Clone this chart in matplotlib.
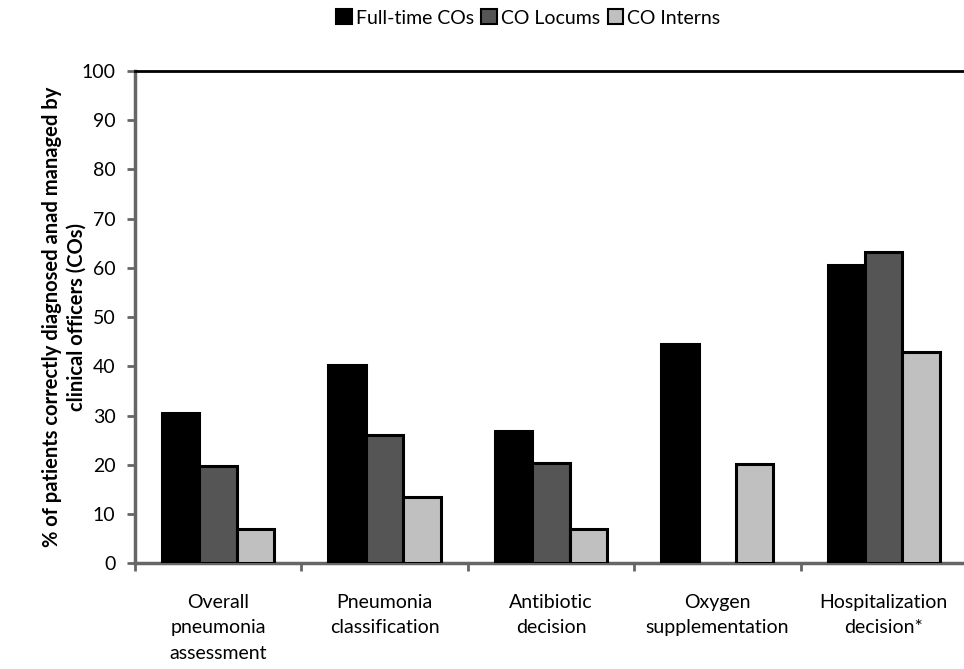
import matplotlib
matplotlib.use("Agg")
import matplotlib.pyplot as plt
import numpy as np
from matplotlib.patches import Patch

plt.rcParams['font.family'] = ['Lato', 'DejaVu Sans']

categories = ["Overall\npneumonia\nassessment", "Pneumonia\nclassification",
              "Antibiotic\ndecision", "Oxygen\nsupplementation", "Hospitalization\ndecision*"]
series_names = ["Full-time COs", "CO Locums", "CO Interns"]
fulltime = [30.5, 40.3, 26.8, 44.6, 60.6]
locums = [19.7, 26.0, 20.4, 0.0, 63.2]
interns = [7.0, 13.4, 6.9, 20.2, 43.0]
yticks = [0, 10, 20, 30, 40, 50, 60, 70, 80, 90, 100]

colors = ["#000000", "#555555", "#c0c0c0"]

fig = plt.figure(figsize=(9.64, 6.69), dpi=100)
ax = fig.add_axes([0.140, 0.158, 0.863, 0.736])

x = np.arange(len(categories)) + 0.5
w = 0.225
for i, (vals, c) in enumerate(zip([fulltime, locums, interns], colors)):
    v = np.array(vals, dtype=float)
    v[v == 0] = np.nan  # no bar drawn for missing/zero values
    ax.bar(x + (i - 1) * w, v, width=w, color=c, edgecolor="black", linewidth=2.2, zorder=3)

ax.set_xlim(0, len(categories))
ax.set_ylim(0, 100)
ax.set_yticks(yticks)
ax.set_yticklabels([str(v) for v in yticks], fontsize=14)
ax.set_xticks(np.arange(len(categories) + 1))
ax.set_xticklabels([])
ax.set_xticks(x, minor=True)
ax.set_xticklabels(categories, minor=True, fontsize=14, linespacing=1.6)
ax.tick_params(axis='x', which='minor', length=0, pad=22)
ax.tick_params(axis='x', which='major', length=6, width=2, color="#666666", direction='out')
ax.tick_params(axis='y', length=6, width=2, color="#666666", direction='out', pad=8)

ax.spines['left'].set_color("#666666")
ax.spines['left'].set_linewidth(2.5)
ax.spines['bottom'].set_color("#666666")
ax.spines['bottom'].set_linewidth(2.5)
ax.spines['top'].set_color("black")
ax.spines['top'].set_linewidth(2)
ax.spines['right'].set_visible(False)

ax.set_ylabel("% of patients correctly diagnosed anad managed by\nclinical officers (COs)",
              fontsize=14.5, fontweight='bold', linespacing=1.3)
ax.yaxis.set_label_coords(-0.058, 0.5)

handles = [Patch(facecolor=c, edgecolor="black", linewidth=1.5) for c in colors]
fig.legend(handles, series_names, loc='upper center', bbox_to_anchor=(0.548, 1.012), ncol=3,
           frameon=False, fontsize=14, handlelength=0.8, handleheight=0.8,
           handletextpad=0.2, columnspacing=0.4)

fig.savefig("out.png", dpi=100)
